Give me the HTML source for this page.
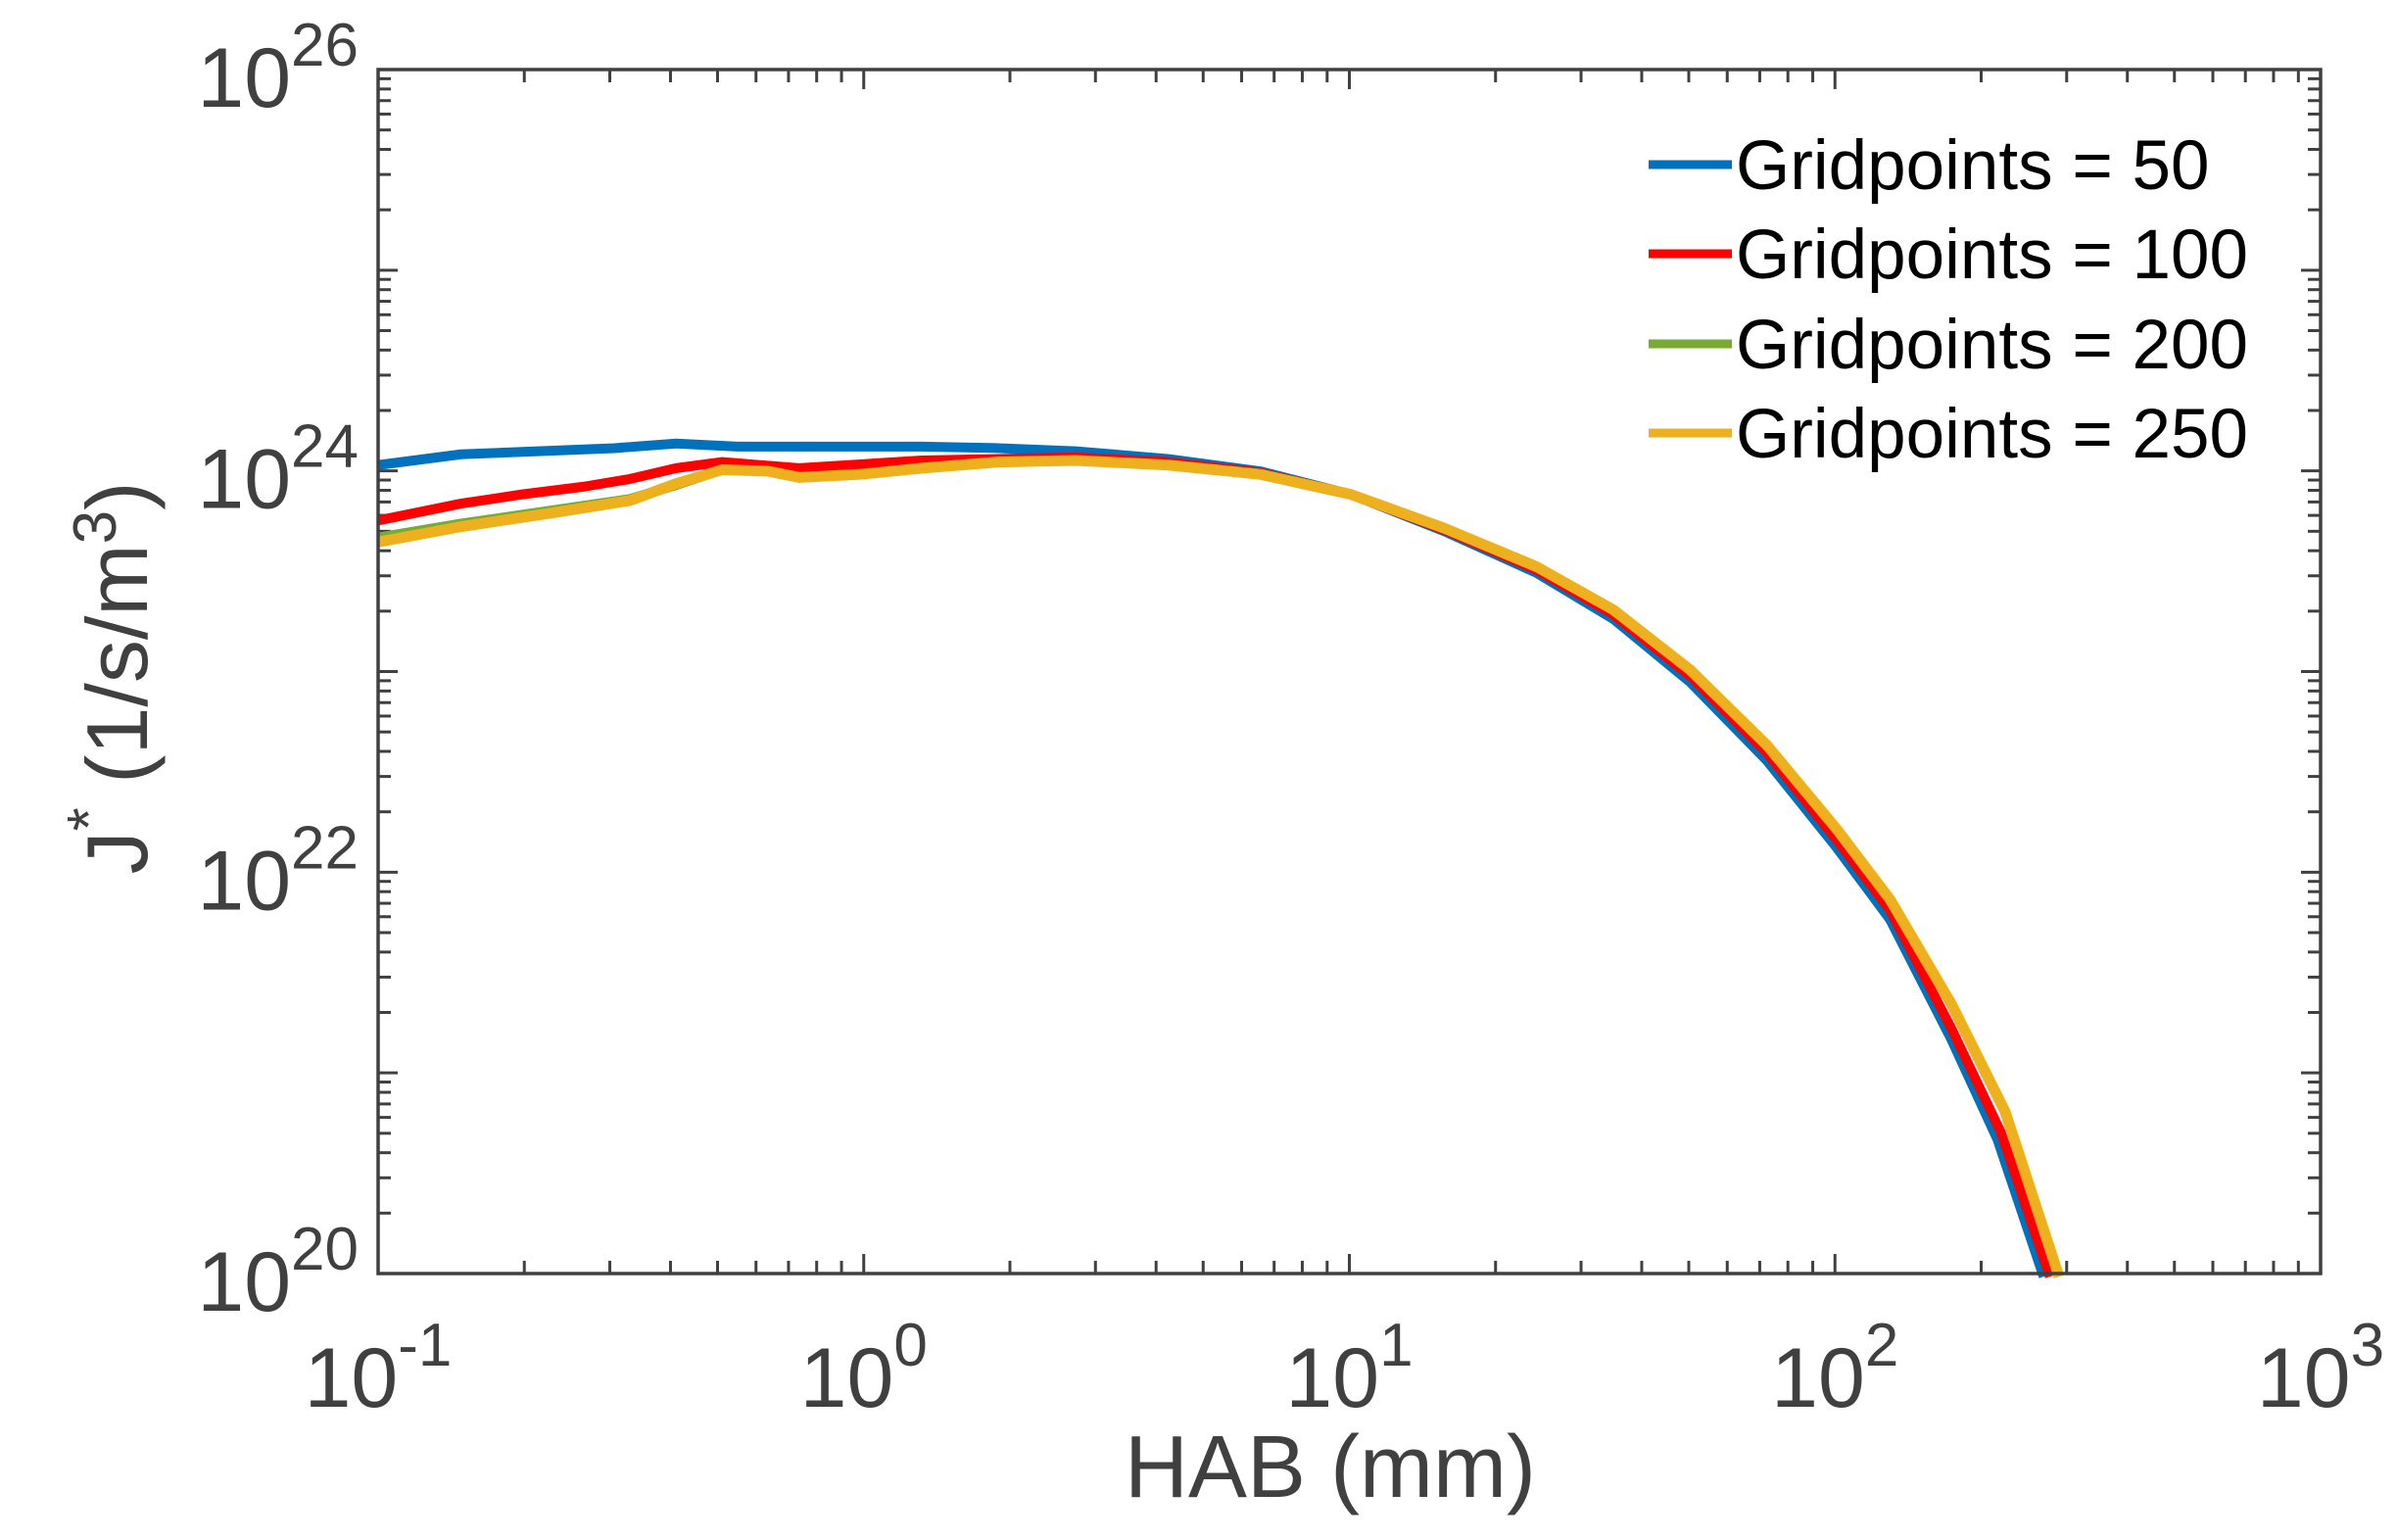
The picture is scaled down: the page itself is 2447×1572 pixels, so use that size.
<!DOCTYPE html>
<html><head><meta charset="utf-8"><style>
html,body{margin:0;padding:0;background:#fff}
svg{display:block}
text{font-family:"Liberation Sans",Arial,sans-serif;fill:#404040}
</style></head><body>
<svg id="s" width="2447" height="1572" viewBox="0 0 2447 1572" xmlns="http://www.w3.org/2000/svg">
<rect width="2447" height="1572" fill="#fff"/>
<g id="ticks" stroke="#404040" stroke-width="3"></g>
<g transform="scale(1.5686,1.572)" fill="none" stroke-linejoin="round" stroke-linecap="butt">
<polyline vector-effect="non-scaling-stroke" stroke="#0072BD" stroke-width="10" points="246,302 300,295 350,293 400,291 440,288 480,290 600,290 650,291 700,293 760,298 820,306 879,321 940,345 1000,372 1050,402 1100,443 1150,494 1195,550 1230,597 1270,675 1300,740 1330,829"/>
<polyline vector-effect="non-scaling-stroke" stroke="#FF0000" stroke-width="10" points="246,338 300,327 340,321 380,316 410,311 440,304 470,300 520,304 600,299 700,297 760,300 820,307 879,321 940,344 1000,370 1050,399 1100,439 1150,489 1195,545 1230,591 1270,668 1302,735 1334,829"/>
<polyline vector-effect="non-scaling-stroke" stroke="#77AC30" stroke-width="10" points="246,349 300,340 410,324 440,315 470,305"/>
<polyline vector-effect="non-scaling-stroke" stroke="#EDB120" stroke-width="11" points="246,352 300,342 360,333 410,325 440,314 470,305 500,306 520,310 560,308 600,304 650,300 700,299 760,302 820,308 879,321 940,343 1000,368 1050,396 1100,435 1150,484 1195,538 1230,584 1270,652 1305,722 1340,829"/>
</g>
<rect x="386" y="71" width="1983" height="1229" fill="none" stroke="#404040" stroke-width="3.5"/>
<g stroke-width="9">
<line x1="1683" y1="168" x2="1768" y2="168" stroke="#0072BD"/>
<line x1="1683" y1="259" x2="1768" y2="259" stroke="#FF0000"/>
<line x1="1683" y1="351" x2="1768" y2="351" stroke="#77AC30"/>
<line x1="1683" y1="442" x2="1768" y2="442" stroke="#EDB120"/>
</g>
<g font-size="71">
<text x="1772" y="193" style="fill:#000">Gridpoints = 50</text>
<text x="1772" y="284" style="fill:#000">Gridpoints = 100</text>
<text x="1772" y="376" style="fill:#000">Gridpoints = 200</text>
<text x="1772" y="467" style="fill:#000">Gridpoints = 250</text>
</g>
<g id="labels" font-size="86"></g>
<text x="1358" y="1528" font-size="90" text-anchor="middle">HAB (mm)</text>
<text transform="translate(150,692) rotate(-90)" font-size="88" text-anchor="middle">J<tspan dy="-38" font-size="62">*</tspan><tspan dy="38"> (1/s/m</tspan><tspan dy="-32" font-size="62">3</tspan><tspan dy="32">)</tspan></text>
</svg>
<script>
(function(){
var L=386,R=2369,T=71,B=1300,dx=(R-L)/4,dy=(B-T)/6,g=document.getElementById('ticks'),lab=document.getElementById('labels'),ns='http://www.w3.org/2000/svg';
function ln(x1,y1,x2,y2){var e=document.createElementNS(ns,'line');e.setAttribute('x1',x1);e.setAttribute('y1',y1);e.setAttribute('x2',x2);e.setAttribute('y2',y2);g.appendChild(e);}
for(var d=0;d<4;d++)for(var k=1;k<=9;k++){var x=L+(d+Math.log10(k))*dx,len=k==1?20:13;if(k==1&&d==0)continue;ln(x,B,x,B-len);ln(x,T,x,T+len);}
for(var d=0;d<6;d++)for(var k=1;k<=9;k++){var y=B-(d+Math.log10(k))*dy,len=k==1?20:13;if(k==1&&d==0)continue;ln(L,y,L+len,y);ln(R,y,R-len,y);}
var xe=['-1','0','1','2','3'];
for(var i=0;i<5;i++){var t=document.createElementNS(ns,'text');t.setAttribute('x',L+i*dx);t.setAttribute('y',1436);t.setAttribute('text-anchor','middle');t.innerHTML='10<tspan dy="-42" font-size="62">'+xe[i]+'</tspan>';lab.appendChild(t);}
var ye=[20,22,24,26];
for(var i=0;i<4;i++){var y=B-(ye[i]-20)*dy;var t=document.createElementNS(ns,'text');t.setAttribute('x',366);t.setAttribute('y',y+38);t.setAttribute('text-anchor','end');t.innerHTML='10<tspan dy="-42" font-size="62">'+ye[i]+'</tspan>';lab.appendChild(t);}
})();
</script>
</body></html>
